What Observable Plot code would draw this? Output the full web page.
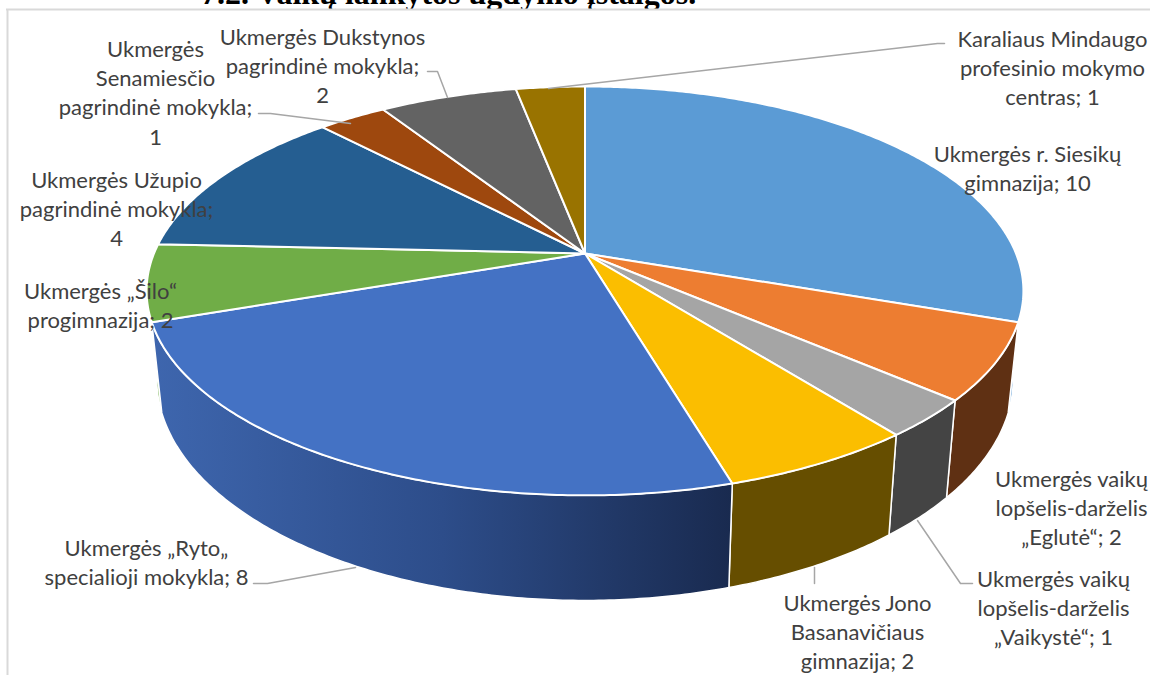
<!DOCTYPE html>
<html>
<head>
<meta charset="utf-8">
<script src="https://cdn.jsdelivr.net/npm/d3@7"></script>
<script src="https://cdn.jsdelivr.net/npm/@observablehq/plot@0.6"></script>
<style>html,body{margin:0;padding:0;background:#fff;overflow:hidden}svg{display:block}</style>
</head>
<body>
<div id="chart"></div>
<script>
// Data, clockwise from 12 o'clock
const schools = [
  "Ukmergės r. Siesikų gimnazija",
  "Ukmergės vaikų lopšelis-darželis „Eglutė“",
  "Ukmergės vaikų lopšelis-darželis „Vaikystė“",
  "Ukmergės Jono Basanavičiaus gimnazija",
  "Ukmergės „Ryto„ specialioji mokykla",
  "Ukmergės „Šilo“ progimnazija",
  "Ukmergės Užupio pagrindinė mokykla",
  "Ukmergės Senamiesčio pagrindinė mokykla",
  "Ukmergės Dukstynos pagrindinė mokykla",
  "Karaliaus Mindaugo profesinio mokymo centras"
];
const counts = [10, 2, 1, 2, 8, 2, 4, 1, 2, 1];
const labelLines = [
  "Ukmergės r. Siesikų\ngimnazija; 10",
  "Ukmergės vaikų\nlopšelis-darželis\n„Eglutė“; 2",
  "Ukmergės vaikų\nlopšelis-darželis\n„Vaikystė“; 1",
  "Ukmergės Jono\nBasanavičiaus\ngimnazija; 2",
  "Ukmergės „Ryto„\nspecialioji mokykla; 8",
  "Ukmergės „Šilo“\nprogimnazija; 2",
  "Ukmergės Užupio\npagrindinė mokykla;\n4",
  "Ukmergės\nSenamiesčio\npagrindinė mokykla;\n1",
  "Ukmergės Dukstynos\npagrindinė mokykla;\n2",
  "Karaliaus Mindaugo\nprofesinio mokymo\ncentras; 1"
];
const titleText = "7.2. Vaikų lankytos ugdymo įstaigos.";

// Styles
const topColors  = ["#5B9BD5","#ED7D31","#A5A5A5","#FBBE00","#4472C4","#70AD47","#255E91","#9E480E","#636363","#997300"];
const wallColors = ["#5B9BD5","#5F3013","#444444","#664E00","url(#ryto-wall)","#70AD47","#255E91","#9E480E","#636363","#997300"];

// Layout of the labels (chart pixels)
const labelX = [1027,1071,1053,857,146,100,116,155,322,1052];
const labelY = [167,506,606,630,561,304,207,91,64,66];
const leaders = [
  {school:3, xs:[814,814], ys:[567,583]},
  {school:2, xs:[917,960,972], ys:[520,583,583]},
  {school:4, xs:[355,267,253], ys:[567,583,583]},
  {school:7, xs:[350,270,258], ys:[123,113,113]},
  {school:8, xs:[447,437,427], ys:[97,71,71]},
  {school:9, xs:[548,937,944], ys:[88,43,43]}
];

// Perspective projection of a tilted disc onto the picture
const total = d3.sum(counts);
const cum = d3.cumsum(counts);
const tilt = 0.183;
const planes = {
  top:    {cx:584.5, cy:253, a:431, b:197.6},
  bottom: {cx:584.5, cy:338, a:421, b:214}
};
function project(angle, plane) {
  const X = Math.sin(angle), Y = -Math.cos(angle), d = 1 - tilt * Y;
  return {x: plane.cx + plane.a * X / d, y: plane.cy + plane.b * Y / d};
}
const sliceAngles = counts.map((c, i) => {
  const a1 = cum[i] / total * 2 * Math.PI, a0 = a1 - c / total * 2 * Math.PI;
  const n = Math.max(2, Math.ceil((a1 - a0) / 0.01));
  return d3.range(n + 1).map(k => a0 + (a1 - a0) * k / n);
});
const topFace = sliceAngles.map(as => {
  const rim = as.map(a => project(a, planes.top));
  const apex = {x: planes.top.cx, y: planes.top.cy};
  return [apex, ...rim, apex];
});
const wallFace = sliceAngles.map(as => {
  const up = as.map(a => project(a, planes.top));
  const down = as.slice().reverse().map(a => project(a, planes.bottom));
  return [...up, ...down, up[0]];
});
// Back walls first, front walls last
const wallOrder = d3.range(counts.length).sort((p, q) => {
  const mid = i => Math.abs(d3.mean(sliceAngles[i]) - Math.PI);
  return mid(q) - mid(p);
});

const gradient = () => {
  const defs = d3.create("svg:defs");
  const g = defs.append("linearGradient").attr("id", "ryto-wall");
  g.append("stop").attr("offset", 0).attr("stop-color", "#3E66AE");
  g.append("stop").attr("offset", 0.5).attr("stop-color", "#2D4D8A");
  g.append("stop").attr("offset", 1).attr("stop-color", "#192A4F");
  return defs.node();
};

const chart = Plot.plot({
  width: 1150,
  height: 675,
  margin: 0,
  style: {background: "#fff"},
  x: {domain: [0, 1150], range: [0, 1150], axis: null},
  y: {domain: [0, 675], range: [0, 675], axis: null},
  marks: [
    gradient,
    Plot.text([titleText], {
      x: () => 448, y: () => 3, text: d => d, textAnchor: "middle", lineAnchor: "bottom",
      fontFamily: "Liberation Serif", fontWeight: "bold", fontSize: 32, fill: "#000"
    }),
    Plot.rect([0], {x1: () => 8, x2: () => 1150, y1: () => 9, y2: () => 675, fill: "#fff"}),
    Plot.ruleY([9], {stroke: "#d9d9d9", strokeWidth: 2, x1: 6, x2: 1150}),
    Plot.ruleX([7], {stroke: "#d9d9d9", strokeWidth: 2, y1: 9, y2: 675}),
    ...wallOrder.map(i => Plot.line(wallFace[i], {
      x: "x", y: "y", fill: wallColors[i], stroke: "#fff", strokeWidth: 1.5, strokeLinejoin: "round"
    })),
    ...counts.map((c, i) => Plot.line(topFace[i], {
      x: "x", y: "y", fill: topColors[i], stroke: "#fff", strokeWidth: 2, strokeLinejoin: "round"
    })),
    ...leaders.map(l => Plot.line(l.xs.map((x, k) => ({x, y: l.ys[k]})), {
      x: "x", y: "y", stroke: "#A6A6A6", strokeWidth: 1.5
    })),
    Plot.text(labelLines, {
      x: (d, i) => labelX[i], y: (d, i) => labelY[i], text: d => d,
      textAnchor: "middle", lineAnchor: "middle", lineHeight: 1.33,
      fontFamily: "Lato", fontSize: 22, fill: "#404040"
    })
  ]
});
document.getElementById("chart").append(chart);
</script>
</body>
</html>
